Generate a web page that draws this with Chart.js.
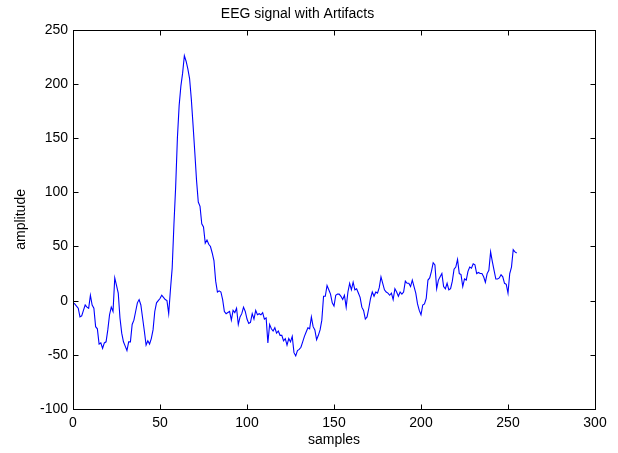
<!DOCTYPE html>
<html>
<head>
<meta charset="utf-8">
<script src="https://cdn.jsdelivr.net/npm/chart.js@4/dist/chart.umd.min.js"></script>
<style>
  html, body { margin: 0; padding: 0; background: #fff; }
  #wrap { width: 618px; height: 453px; }
</style>
</head>
<body>
<div id="wrap"><canvas id="c" width="618" height="453"></canvas></div>
<script>
const chartTitle = "EEG signal with Artifacts";
const xAxisLabel = "samples";
const yAxisLabel = "amplitude";
const xTicks = [0, 50, 100, 150, 200, 250, 300];
const yTicks = [-100, -50, 0, 50, 100, 150, 200, 250];
const amplitude = [
  -2, -3, -5, -7, -15, -14, -9, -4, -6, -7,
  5, -4, -7, -24, -26, -40, -39, -44, -39, -38,
  -27, -13, -6, -10, 21, 14, 7, -16, -30, -38,
  -42, -46, -38, -38, -22, -18, -10, -2, 1, -4,
  -16, -28, -41, -37, -40, -35, -27, -10, -2, 0,
  2, 5, 3, 1, 0, -12, 10, 30, 70, 105,
  150, 180, 198, 210, 226, 221, 214, 205, 186, 162,
  137, 111, 91, 87, 71, 68, 53, 56, 52, 50,
  44, 37, 18, 8, 9, 8, 1, -10, -12, -11,
  -10, -18, -9, -11, -7, -22, -15, -12, -6, -10,
  -17, -21, -20, -12, -17, -9, -13, -12, -13, -11,
  -17, -16, -39, -22, -26, -28, -25, -30, -28, -32,
  -32, -37, -35, -41, -35, -38, -33, -48, -51, -46,
  -45, -43, -38, -33, -29, -25, -26, -15, -24, -27,
  -36, -32, -27, -18, 4, 4, 14, 10, 6, -2,
  -5, 5, 6, 6, 4, 1, 5, -6, 8, 16,
  10, 17, 10, 11, 7, 3, -6, -9, -17, -15,
  -7, 2, 8, 4, 8, 7, 12, 22, 16, 10,
  8, 7, 5, 7, 1, 11, 8, 4, 8, 6,
  8, 18, 16, 16, 13, 19, 13, 7, -3, -9,
  -13, -4, -3, 2, 19, 21, 27, 35, 33, 11,
  19, 22, 25, 13, 11, 16, 10, 11, 18, 29,
  31, 38, 25, 24, 13, 20, 19, 27, 31, 30,
  34, 33, 25, 26, 25, 25, 22, 17, 25, 28,
  45, 36, 28, 20, 20, 21, 24, 22, 16, 15,
  7, 25, 31, 47, 45, 44
];
const samples = amplitude.map((_, i) => i);

const points = samples.map((s, i) => ({ x: s, y: amplitude[i] }));

const framePlugin = {
  id: 'matlabFrame',
  afterDraw(chart) {
    const { ctx, chartArea: a, scales: { x, y } } = chart;
    ctx.save();
    ctx.strokeStyle = '#000';
    ctx.lineWidth = 1;
    const L = Math.round(a.left) + 0.5, R = Math.round(a.right) + 0.5;
    const T = Math.round(a.top) + 0.5, B = Math.round(a.bottom) + 0.5;
    ctx.strokeRect(L, T, R - L, B - T);
    const tl = 5;
    ctx.beginPath();
    xTicks.forEach(v => {
      const px = Math.round(x.getPixelForValue(v)) + 0.5;
      ctx.moveTo(px, B); ctx.lineTo(px, B - tl);
      ctx.moveTo(px, T); ctx.lineTo(px, T + tl);
    });
    yTicks.forEach(v => {
      const py = Math.round(y.getPixelForValue(v)) + 0.5;
      ctx.moveTo(L, py); ctx.lineTo(L + tl, py);
      ctx.moveTo(R, py); ctx.lineTo(R - tl, py);
    });
    ctx.stroke();
    ctx.restore();
  }
};

const font = { family: "'Liberation Sans', Arial, sans-serif", size: 14 };

new Chart(document.getElementById('c'), {
  type: 'line',
  data: {
    datasets: [{
      data: points,
      borderColor: '#0000ff',
      borderWidth: 1.1,
      pointRadius: 0,
      tension: 0,
      fill: false
    }]
  },
  options: {
    responsive: false,
    animation: false,
    devicePixelRatio: 1,
    layout: { padding: { left: 0, right: 23, top: 0, bottom: 0 } },
    plugins: {
      legend: { display: false },
      tooltip: { enabled: false },
      title: {
        display: true,
        text: chartTitle,
        color: '#000',
        font: { ...font, weight: 'normal' },
        padding: { top: 6, bottom: 7 }
      }
    },
    scales: {
      x: {
        type: 'linear',
        min: 0, max: 300,
        afterBuildTicks(s) { s.ticks = xTicks.map(v => ({ value: v })); },
        afterFit(s) { s.height = 44; },
        grid: { display: false, drawTicks: false },
        border: { display: false },
        ticks: { color: '#000', font, padding: 6, maxRotation: 0 },
        title: { display: true, text: xAxisLabel, color: '#000', font, padding: { top: 0, bottom: 4 } }
      },
      y: {
        type: 'linear',
        min: -100, max: 250,
        afterBuildTicks(s) { s.ticks = yTicks.map(v => ({ value: v })); },
        afterFit(s) { s.width = 73; },
        grid: { display: false, drawTicks: false },
        border: { display: false },
        ticks: { color: '#000', font, padding: 5 },
        title: { display: true, text: yAxisLabel, color: '#000', font, padding: { top: 13, bottom: 0 } }
      }
    }
  },
  plugins: [framePlugin]
});
</script>
</body>
</html>
